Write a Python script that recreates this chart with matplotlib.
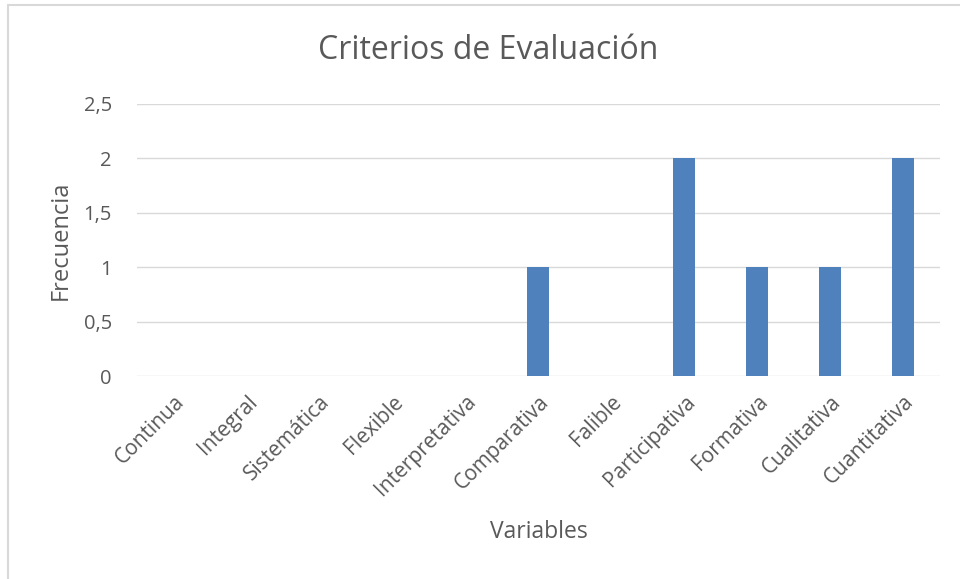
import matplotlib.pyplot as plt
from matplotlib.lines import Line2D

categories = ['Continua', 'Integral', 'Sistemática', 'Flexible', 'Interpretativa',
              'Comparativa', 'Falible', 'Participativa', 'Formativa', 'Cualitativa',
              'Cuantitativa']
frecuencia = [0, 0, 0, 0, 0, 1, 0, 2, 1, 1, 2]
y_ticks = [0, 0.5, 1, 1.5, 2, 2.5]
y_labels = ['0', '0,5', '1', '1,5', '2', '2,5']

plt.rcParams['font.family'] = ['Open Sans', 'DejaVu Sans']
text_color = '#595959'
grid_color = '#D9D9D9'

fig = plt.figure(figsize=(9.6, 5.79), dpi=100)
ax = fig.add_axes([0.1427, 0.3506, 0.8363, 0.4698])

x = range(len(categories))
ax.bar(x, frecuencia, width=0.3, color='#4F81BD', zorder=3)

ax.set_xlim(-0.5, len(categories) - 0.5)
ax.set_ylim(0, 2.5)
ax.set_yticks(y_ticks)
ax.set_yticklabels(y_labels, fontsize=14.5, color=text_color)
ax.set_xticks(list(x))
ax.set_xticklabels(categories, rotation=45, ha='right', rotation_mode='anchor',
                   fontsize=15, color=text_color)
ax.tick_params(length=0, pad=18, axis='y')
ax.tick_params(length=0, pad=11, axis='x')
ax.grid(axis='y', color=grid_color, linewidth=1, zorder=0)
for s in ax.spines.values():
    s.set_visible(False)

ax.set_ylabel('Frecuencia', fontsize=17, color=text_color, labelpad=8)
ax.set_xlabel('Variables', fontsize=16.5, color=text_color, labelpad=14)
fig.text(0.509, 0.913, 'Criterios de Evaluación', ha='center', va='center',
         fontsize=23, color=text_color)

# chart border (top and left visible)
fig.add_artist(Line2D([0.009, 1.0], [0.991, 0.991], color=grid_color, linewidth=1.5,
                      transform=fig.transFigure))
fig.add_artist(Line2D([0.0088, 0.0088], [0.0, 0.991], color=grid_color, linewidth=1.5,
                      transform=fig.transFigure))

fig.savefig('out.png', dpi=100)
